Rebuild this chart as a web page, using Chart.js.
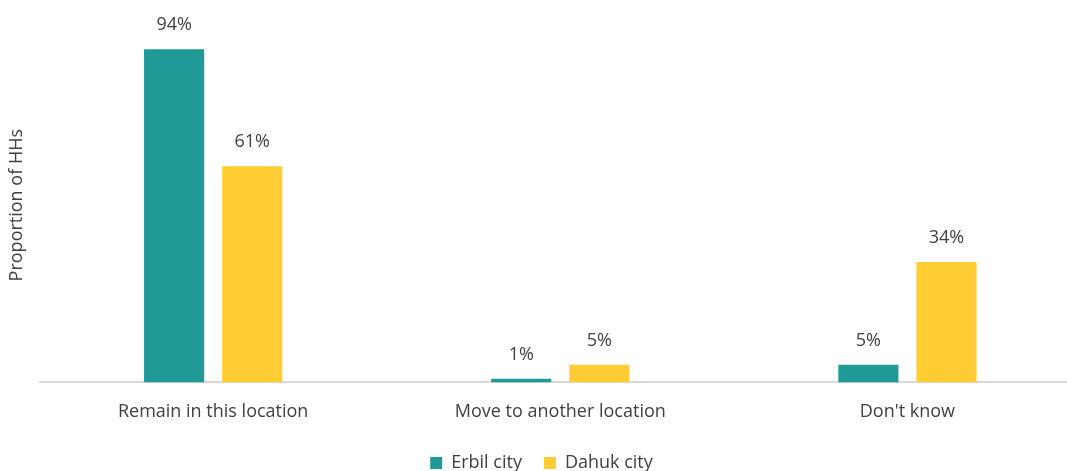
<!DOCTYPE html>
<html>
<head>
<meta charset="utf-8">
<script src="https://cdn.jsdelivr.net/npm/chart.js@4/dist/chart.umd.min.js"></script>
<style>
  html, body { margin: 0; padding: 0; background: #fff; overflow: hidden; }
  #wrap { width: 1081px; height: 471px; }
</style>
</head>
<body>
<div id="wrap"><canvas id="myChart" width="1081" height="471"></canvas></div>
<script>
const categories = ["Remain in this location", "Move to another location", "Don't know"];
const erbil = [94, 1, 5];
const dahuk = [61, 5, 34];

const FONT = "Open Sans";

// draws the % labels above each bar
const barLabels = {
  id: "barLabels",
  afterDatasetsDraw(chart) {
    const ctx = chart.ctx;
    ctx.save();
    ctx.font = "18px '" + FONT + "'";
    ctx.fillStyle = "#404040";
    ctx.textAlign = "center";
    ctx.textBaseline = "middle";
    chart.data.datasets.forEach((ds, i) => {
      chart.getDatasetMeta(i).data.forEach((bar, j) => {
        ctx.fillText(ds.data[j] + "%", bar.x, bar.y - 24);
      });
    });
    ctx.restore();
  }
};

let ctx = document.getElementById("myChart").getContext("2d");
let myChart = new Chart(ctx, {
  type: "bar",
  data: {
    labels: categories,
    datasets: [
      { label: "Erbil city", data: erbil, backgroundColor: "#1F9A97" },
      { label: "Dahuk city", data: dahuk, backgroundColor: "#FFCD33" }
    ]
  },
  plugins: [barLabels],
  options: {
    responsive: false,
    animation: false,
    maintainAspectRatio: false,
    categoryPercentage: 0.45,
    barPercentage: 0.77,
    layout: { padding: { left: 2, top: 28, right: 0, bottom: -11 } },
    scales: {
      x: {
        grid: { display: false },
        border: { color: "#d9d9d9", width: 2 },
        ticks: { color: "#404040", font: { family: FONT, size: 18 }, padding: 11 },
        afterFit(scale) { scale.height -= 2; }
      },
      y: {
        min: 0,
        max: 100,
        ticks: { display: false },
        grid: { display: false },
        border: { display: false },
        title: {
          display: true,
          text: "Proportion of HHs",
          color: "#404040",
          font: { family: FONT, size: 18 },
          padding: 4
        }
      }
    },
    plugins: {
      tooltip: { enabled: false },
      legend: {
        position: "bottom",
        labels: {
          color: "#404040",
          font: { family: FONT, size: 18 },
          boxWidth: 12,
          boxHeight: 12,
          padding: 22
        }
      }
    }
  }
});
</script>
</body>
</html>
